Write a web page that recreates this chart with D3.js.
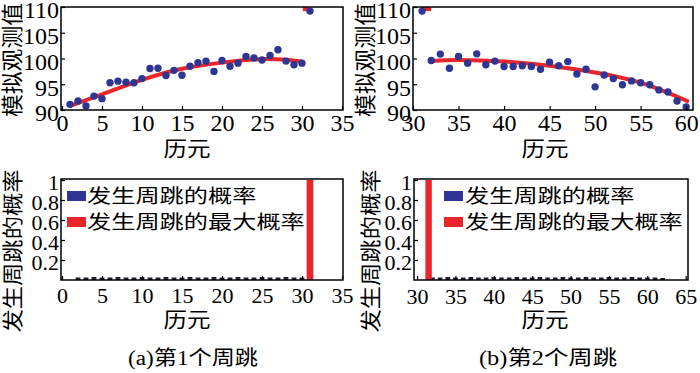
<!DOCTYPE html>
<html><head><meta charset="utf-8">
<script src="https://cdn.jsdelivr.net/npm/d3@7"></script>
<style>body{margin:0;background:#fff}svg{display:block}</style></head>
<body>
<svg id="c" width="700" height="373"></svg>
<script>
// ---------- data ----------
const epochs1 = [1,2,3,4,5,6,7,8,9,10,11,12,13,14,15,16,17,18,19,20,21,22,23,24,25,26,27,28,29,30,31];
const obs1 = [91.1,91.75,90.8,92.7,92.2,95.3,95.6,95.4,95.3,96.1,98.05,98.1,96.7,97.7,96.75,98.5,99.2,99.5,97.5,99.6,98.5,99.1,100.4,100.1,99.7,100.6,101.7,99.5,98.8,99.1,109.2];
const fitX1 = [1,5,10,15,20,25,28,30];
const fitY1 = [90.8,93.05,95.85,98.0,99.2,99.9,99.75,99.4];
const jumpX1 = [30.1,31];
const jumpY1 = [109.6,109.5];

const epochs2 = [31,32,33,34,35,36,37,38,39,40,41,42,43,44,45,46,47,48,49,50,51,52,53,54,55,56,57,58,59,60];
const obs2 = [109.2,99.6,100.85,98.1,100.4,99.1,100.9,98.8,99.5,98.45,98.45,98.6,98.45,97.9,99.3,98.6,99.4,97.0,97.9,94.5,96.8,96.1,94.9,95.65,95.3,94.9,93.9,93.5,91.75,90.6];
const fitX2 = [32,35,40,45,50,55,60.3];
const fitY2 = [99.5,99.7,99.4,98.6,97.3,95.3,91.6];
const jumpX2 = [31,32];
const jumpY2 = [109.6,109.6];

const probEpochs1 = [2,3,4,5,6,7,8,9,10,11,12,13,14,15,16,17,18,19,20,21,22,23,24,25,26,27,28,29,30];
const probVals1 = [0.025,0.025,0.03,0.025,0.025,0.03,0.025,0.025,0.03,0.025,0.025,0.03,0.025,0.025,0.03,0.025,0.025,0.03,0.025,0.025,0.03,0.025,0.025,0.03,0.025,0.025,0.03,0.025,0.025];
const maxEpoch1 = 31, maxVal1 = 1;

const probEpochs2 = [32,33,34,35,36,37,38,39,40,41,42,43,44,45,46,47,48,49,50,51,52,53,54,55,56,57,58,59,60,61,62];
const probVals2 = [0.025,0.025,0.03,0.025,0.025,0.03,0.025,0.025,0.03,0.025,0.025,0.03,0.025,0.025,0.03,0.025,0.025,0.03,0.025,0.025,0.03,0.025,0.025,0.03,0.025,0.025,0.03,0.025,0.025,0.025,0.02];
const maxEpoch2 = 31.5, maxVal2 = 1;

const topYTicks = [90,95,100,105,110];
const xTicks1 = [0,5,10,15,20,25,30,35];
const xTicks2 = [30,35,40,45,50,55,60];
const xTicks3 = [30,35,40,45,50,55,60,65];
const probTicks = [0.2,0.4,0.6,0.8,1];
const probTickLabels = ["0.2","0.4","0.6","0.8","1"];

const yTitleTop = "模拟观测值";
const yTitleBottom = "发生周跳的概率";
const xTitle = "历元";
const legendLabels = ["发生周跳的概率","发生周跳的最大概率"];
const captions = ["(a)第1个周跳","(b)第2个周跳"];

// ---------- style ----------
const BLUE = "#2e3592", RED = "#e8262b", DARK = "#1c1c2e";
const FONT = "'Liberation Serif','Times New Roman','Noto Sans CJK SC',serif";
const svg = d3.select("#c");
svg.append("rect").attr("width",700).attr("height",373).attr("fill","#fff");

function frame(x0,x1,y0,y1){
  svg.append("rect").attr("x",x0).attr("y",y0).attr("width",x1-x0).attr("height",y1-y0)
    .attr("fill","none").attr("stroke","#000").attr("stroke-width",1.5);
}
function xAxis(x, ticks, yb, fs, base){
  const g = svg.append("g").attr("transform",`translate(0,${yb})`);
  g.call(d3.axisBottom(x).tickValues(ticks).tickSizeInner(-4).tickSizeOuter(0).tickPadding(0))
    .call(a=>a.select(".domain").remove());
  g.selectAll(".tick line").attr("stroke","#000").attr("stroke-width",1.2);
  g.selectAll(".tick text").attr("font-family",FONT).attr("font-size",fs).attr("fill","#000")
    .attr("y",base).attr("dy",0);
}
function yAxis(y, ticks, xl, fs, labels, dy){
  const g = svg.append("g").attr("transform",`translate(${xl},0)`);
  const ax = d3.axisLeft(y).tickValues(ticks).tickSizeInner(-4).tickSizeOuter(0).tickPadding(2);
  if(labels) ax.tickFormat((d,i)=>labels[i]);
  g.call(ax).call(a=>a.select(".domain").remove());
  g.selectAll(".tick line").attr("stroke","#000").attr("stroke-width",1.2);
  g.selectAll(".tick text").attr("font-family",FONT).attr("font-size",fs).attr("fill","#000")
    .attr("x",-2).attr("dy",dy || "0.42em");
}
function text(t,x,y,fs,len,rot){
  const el = svg.append("text").attr("x",x).attr("y",y).attr("font-family",FONT)
    .attr("font-size",fs).attr("fill","#000").attr("text-anchor","middle").attr("dominant-baseline","central").text(t);
  if(len) el.attr("textLength",len).attr("lengthAdjust","spacingAndGlyphs");
  if(rot) el.attr("transform",`rotate(${rot},${x},${y})`);
  return el;
}

// ---------- top panels ----------
function scatterPanel(xs, ys, fx, fy, jx, jy, x, y){
  const g = svg.append("g");
  const line = d3.line().x(d=>x(d[0])).y(d=>y(d[1])).curve(d3.curveNatural);
  g.append("path").datum(fx.map((v,i)=>[v,fy[i]])).attr("d",line)
    .attr("fill","none").attr("stroke",RED).attr("stroke-width",4);
  g.append("path").datum(jx.map((v,i)=>[v,jy[i]])).attr("d",d3.line().x(d=>x(d[0])).y(d=>y(d[1])))
    .attr("fill","none").attr("stroke",RED).attr("stroke-width",4);
  g.selectAll("circle").data(xs).join("circle")
    .attr("cx",d=>x(d)).attr("cy",(d,i)=>y(ys[i])).attr("r",3.7).attr("fill",BLUE);
}

const yTop = d3.scaleLinear().domain([90,110]).range([110,7]);
const x1 = d3.scaleLinear().domain([0,35]).range([62,342]);
const x2 = d3.scaleLinear().domain([30,60.75]).range([413,693]);

scatterPanel(epochs1, obs1, fitX1, fitY1, jumpX1, jumpY1, x1, yTop);
scatterPanel(epochs2, obs2, fitX2, fitY2, jumpX2, jumpY2, x2, yTop);
frame(61,343,7,110);
frame(413,693,7,110);
xAxis(x1, xTicks1, 110, 24, 21);
xAxis(x2, xTicks2, 110, 24, 21);
yAxis(yTop, topYTicks, 61, 24, null, "0.45em");
yAxis(yTop, topYTicks, 413, 24, null, "0.45em");

// ---------- bottom panels ----------
const yBot = d3.scaleLinear().domain([0,1]).range([280,180]);
const x3 = d3.scaleLinear().domain([0,35]).range([62,342]);
const x4 = d3.scaleLinear().domain([29.6,65.3]).range([414,688]);

function barPanel(pe, pv, me, mv, x){
  const g = svg.append("g");
  const w = x(1)-x(0);
  g.selectAll("rect.p").data(pe).join("rect").attr("class","p")
    .attr("x",d=>x(d)-0.3*w).attr("width",0.6*w)
    .attr("y",(d,i)=>yBot(pv[i])).attr("height",(d,i)=>yBot(0)-yBot(pv[i])).attr("fill",DARK);
  g.append("rect").attr("x",x(me)-0.42*w).attr("width",0.84*w)
    .attr("y",yBot(mv)).attr("height",yBot(0)-yBot(mv)).attr("fill",RED);
}
barPanel(probEpochs1, probVals1, maxEpoch1, maxVal1, x3);
barPanel(probEpochs2, probVals2, maxEpoch2, maxVal2, x4);
frame(61,343,179,280);
frame(414,688,179,280);
xAxis(x3, xTicks1, 280, 22, 23);
xAxis(x4, xTicks3, 280, 22, 24);
yAxis(yBot, probTicks, 61, 22, probTickLabels);
yAxis(yBot, probTicks, 414, 22, probTickLabels);

// legends
function legend(sx, tx){
  const cols=[BLUE,RED], ys=[196,222];
  legendLabels.forEach((t,i)=>{
    svg.append("rect").attr("x",sx).attr("y",ys[i]-5).attr("width",19).attr("height",10).attr("fill",cols[i]);
    svg.append("text").attr("x",tx).attr("y",ys[i]).attr("dominant-baseline","central")
      .attr("font-family",FONT).attr("font-size",19).attr("fill","#000")
      .attr("textLength",t.length*24.2).attr("lengthAdjust","spacingAndGlyphs").text(t);
  });
}
legend(67,87);
legend(444,465);

// titles
text(yTitleTop,12,60,22,114,-90);
text(yTitleTop,365,60,22,114,-90);
text(yTitleBottom,13,251,21,163,-90);
text(yTitleBottom,371,251,21,163,-90);
text(xTitle,187,149,21,47);
text(xTitle,545,149,21,47);
text(xTitle,187,320,21,47);
text(xTitle,545,320,21,47);
text(captions[0],193,358,20,130);
text(captions[1],548,358,20,138);
</script>
</body></html>
